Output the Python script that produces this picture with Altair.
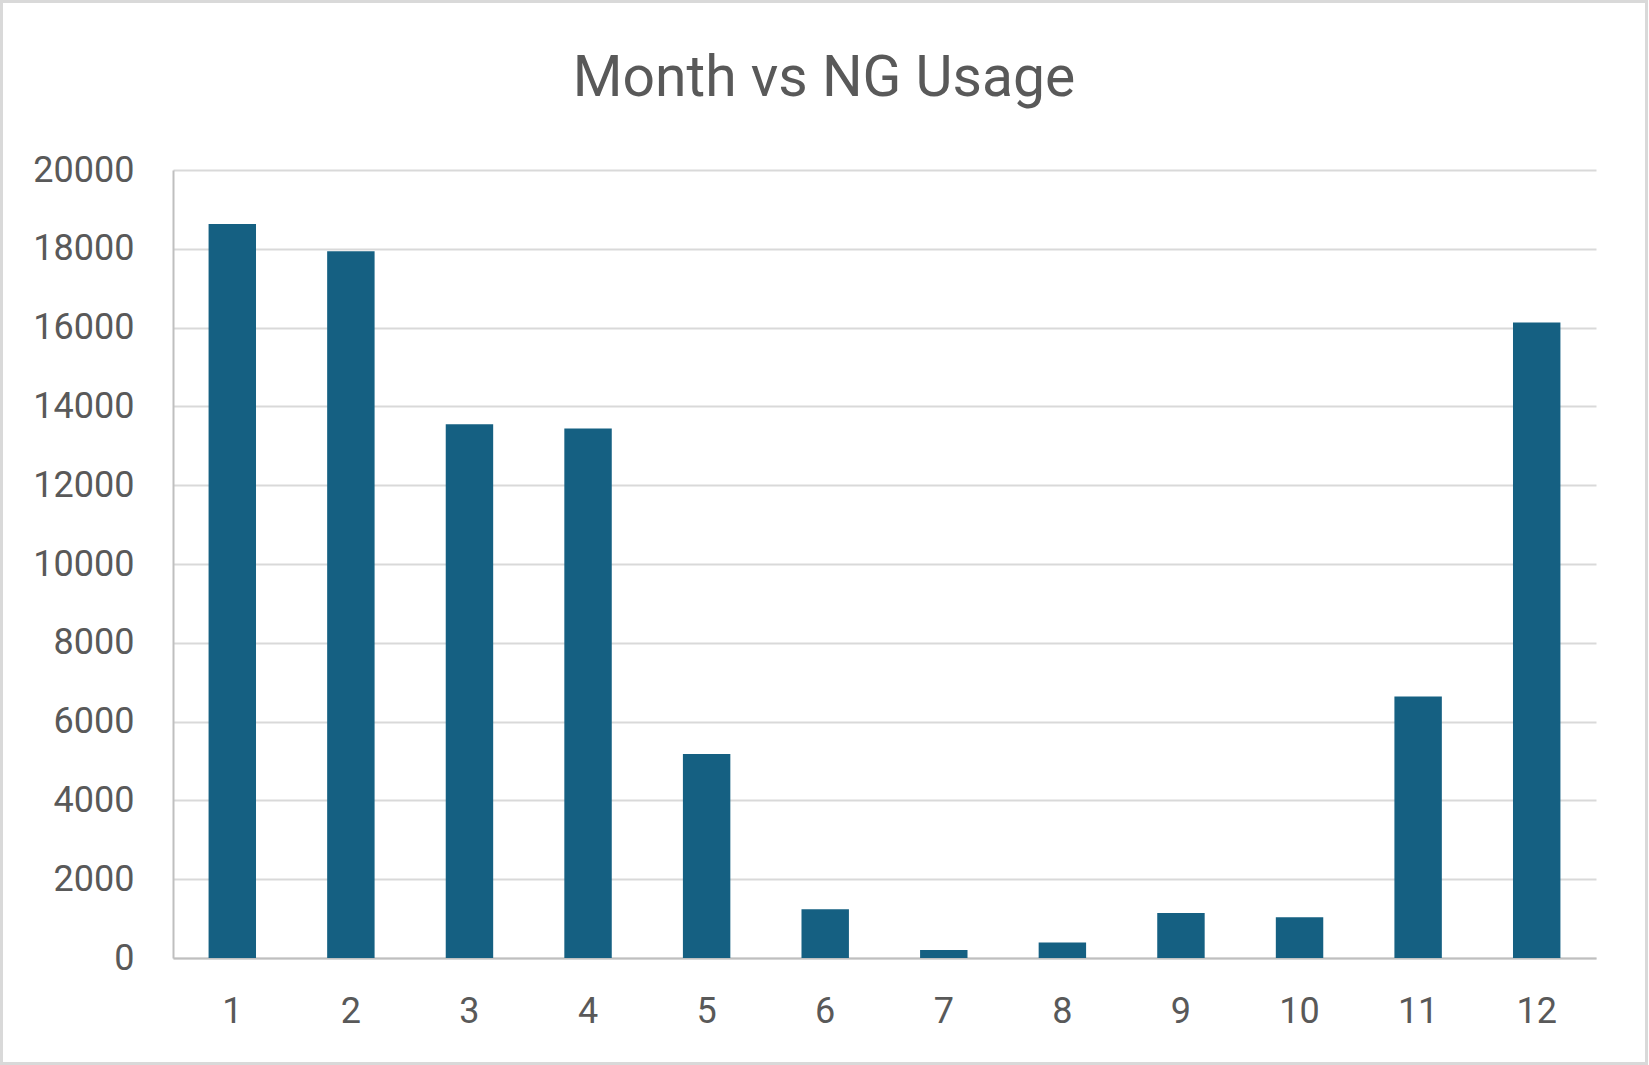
import altair as alt
import pandas as pd

months = [1, 2, 3, 4, 5, 6, 7, 8, 9, 10, 11, 12]
usage = [18630, 17940, 13550, 13440, 5180, 1240, 200, 395, 1140, 1035, 6640, 16130]
y_ticks = [0, 2000, 4000, 6000, 8000, 10000, 12000, 14000, 16000, 18000, 20000]
chart_title = "Month vs NG Usage"

df = pd.DataFrame({"Month": months, "Usage": usage})
title_df = pd.DataFrame({"t": [chart_title]})

FONT = "Roboto"
TXT = "#595959"
W, H = 1423, 788

bars = alt.Chart(df).mark_bar(color="#156082").encode(
    x=alt.X("Month:O", title=None,
            scale=alt.Scale(paddingInner=0.6, paddingOuter=0.3),
            axis=alt.Axis(labelAngle=0, ticks=False, domain=True, domainColor="#BFBFBF",
                          domainWidth=2, labelFontSize=36, labelColor=TXT, labelFont=FONT,
                          labelPadding=36, grid=False)),
    y=alt.Y("Usage:Q", title=None,
            scale=alt.Scale(domain=[0, 20000], nice=False),
            axis=alt.Axis(values=y_ticks, format="d", ticks=False, domain=True,
                          domainColor="#BFBFBF", domainWidth=2,
                          gridColor="#D9D9D9", gridWidth=2,
                          labelFontSize=36, labelColor=TXT, labelFont=FONT,
                          labelPadding=39)),
)

title = alt.Chart(title_df).mark_text(
    font=FONT, fontSize=57, color=TXT, align="center", baseline="alphabetic"
).encode(text="t:N", x=alt.value(651), y=alt.value(-74))

border = alt.Chart(df).mark_rect(fill=None, stroke="#D9D9D9", strokeWidth=3).encode(
    x=alt.value(-171.5), x2=alt.value(W + 50.5),
    y=alt.value(-168.5), y2=alt.value(H + 105.5),
)

chart = alt.layer(bars, title, border).properties(
    width=W, height=H,
    padding={"left": 173, "top": 170, "right": 53, "bottom": 107},
    autosize=alt.AutoSizeParams(type="none"),
    background="white",
).configure_view(stroke=None)

chart.save("out.html", embed_options={"renderer": "svg", "actions": False})
